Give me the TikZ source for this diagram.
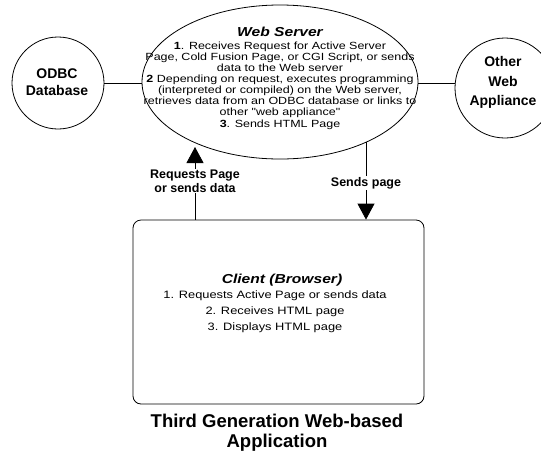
\documentclass[tikz,border=0pt]{standalone}
\usepackage{fontspec}
\setmainfont{Liberation Sans}
\newfontfamily\widesf[FakeStretch=1.2]{Liberation Sans}
\usetikzlibrary{arrows.meta,shapes.geometric}
\begin{document}
\begin{tikzpicture}[x=1pt,y=-1pt,
  line/.style={draw=black,line width=0.8pt},
  arr/.style={line,-{Triangle[width=17pt,length=16pt]}},
  lbl/.style={fill=white,inner sep=1pt,align=center,font=\fontsize{12.5}{13.5}\selectfont\bfseries},
  txt/.style={align=center,inner sep=0pt}]
\useasboundingbox (0,0) rectangle (541,456);
\begin{scope}
\clip (0,0) rectangle (541,456);
\node[line,ellipse,minimum width=276pt,minimum height=154pt] (web) at (280,82) {};
\node[line,circle,minimum size=92pt] (odbc) at (58,83) {};
\node[line,circle,minimum size=100pt] (other) at (505,88) {};
\end{scope}
\node[txt,font=\fontsize{14}{17.5}\selectfont\bfseries] (odbctext) at (57,82) {ODBC\\Database};
\node[txt,font=\fontsize{14}{19.5}\selectfont\bfseries] (othertext) at (503,82.5) {Other\\Web\\Appliance};
\node[txt,font=\widesf\fontsize{13}{15}\selectfont\bfseries\itshape] (webtitle) at (280,32) {Web Server};
\node[txt,font=\widesf\fontsize{10.4}{11.1}\selectfont] (webtext) at (280,85.5)
 {\textbf{1}. Receives Request for Active Server\\
  Page, Cold Fusion Page, or CGI Script, or sends\\
  data to the Web server\\
  \textbf{2} Depending on request, executes programming\\
  (interpreted or compiled) on the Web server,\\
  retrieves data from an ODBC database or links to\\
  other "web appliance"\\
  \textbf{3}. Sends HTML Page};
\draw[line] (odbc.east) -- (odbc.east -| web.west);
\draw[line] (odbc.east -| web.east) -- (odbc.east -| other.west);
\node[line,rounded corners=8pt,minimum width=291pt,minimum height=184pt] (client) at (278.5,312) {};
\node[txt,font=\widesf\fontsize{13}{16}\selectfont\bfseries\itshape] (clienttitle) at (282,280) {Client (Browser)};
\node[txt,font=\widesf\fontsize{10.7}{16}\selectfont] (clienttext) at (275,312)
 {1. Requests Active Page or sends data\\
  2. Receives HTML page\\
  3. Displays HTML page};
\coordinate (reqtip) at (195,147);
\coordinate (sendtop) at (366,142);
\draw[arr] (client.north -| reqtip) -- node[lbl,pos=0.527]{Requests Page\\or sends data} (reqtip);
\draw[arr] (sendtop) -- node[lbl,pos=0.526]{Sends page} (client.north -| sendtop);
\node[txt,font=\fontsize{18.5}{19.5}\selectfont\bfseries] (title) at (277,432.5) {Third Generation Web-based\\Application};
\end{tikzpicture}
\end{document}
